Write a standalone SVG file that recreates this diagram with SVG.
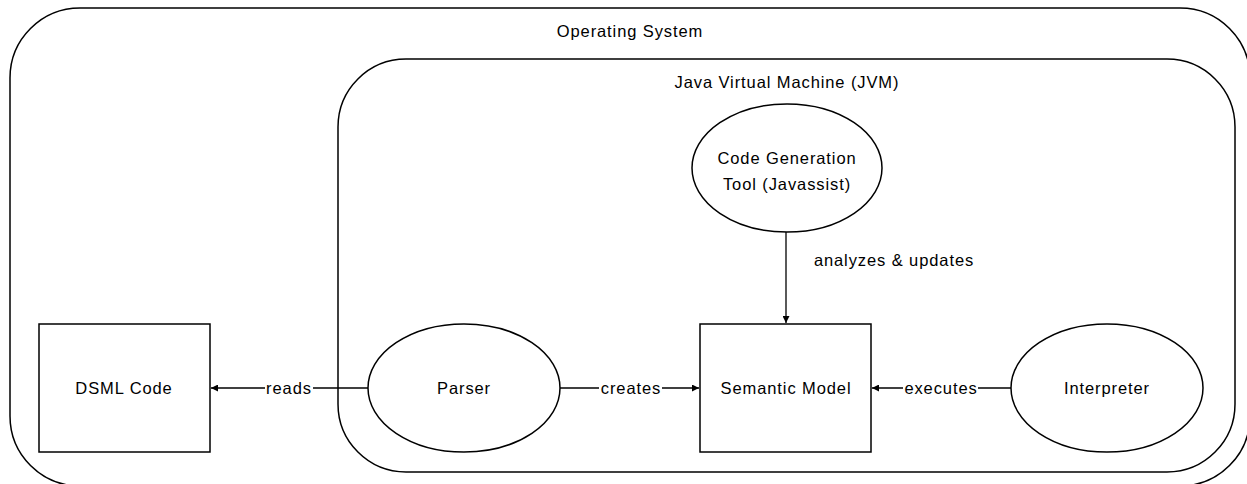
<svg xmlns="http://www.w3.org/2000/svg" width="1247" height="484" viewBox="0 0 1247 484">
<style>
.shape{fill:#fff;stroke:#000;stroke-width:1.5}
.cont{fill:none;stroke:#000;stroke-width:1.5}
.t{font-family:"Liberation Sans",Arial,sans-serif;font-size:16.5px;fill:#000;text-anchor:middle;dominant-baseline:central;letter-spacing:0.9px}
.edge{stroke:#000;stroke-width:1.3;fill:none;marker-end:url(#ah)}
.lbl{fill:#fff;stroke:none}
</style>
<defs>
<marker id="ah" viewBox="0 0 10 10" refX="10" refY="5" markerWidth="7" markerHeight="7" markerUnits="userSpaceOnUse" orient="auto">
<path d="M0,0 L10,5 L0,10 z" fill="#000"/>
</marker>
</defs>
<g id="os">
<rect class="cont" x="10" y="8" width="1240" height="478" rx="70" ry="70"/>
<text class="t" x="630" y="31">Operating System</text>
</g>
<g id="jvm">
<rect class="shape" x="338" y="59" width="897" height="413" rx="68" ry="68"/>
<text class="t" x="787" y="82">Java Virtual Machine (JVM)</text>
</g>
<g id="connectors">
<line class="edge" x1="368" y1="388" x2="211" y2="388"/>
<rect class="lbl" x="265" y="378" width="48" height="20"/>
<text class="t" x="289" y="388">reads</text>
<line class="edge" x1="560" y1="388" x2="699" y2="388"/>
<rect class="lbl" x="599" y="378" width="63" height="20"/>
<text class="t" x="631" y="388">creates</text>
<line class="edge" x1="1011" y1="388" x2="872" y2="388"/>
<rect class="lbl" x="903" y="378" width="75" height="20"/>
<text class="t" x="941" y="388">executes</text>
<line class="edge" x1="786" y1="232" x2="786" y2="323"/>
<text class="t" x="894" y="260">analyzes &amp; updates</text>
</g>
<g id="dsml">
<rect class="shape" x="39" y="324" width="171" height="128"/>
<text class="t" x="124" y="388">DSML Code</text>
</g>
<g id="parser">
<ellipse class="shape" cx="464" cy="388" rx="96" ry="64"/>
<text class="t" x="464" y="388">Parser</text>
</g>
<g id="semantic">
<rect class="shape" x="700" y="324" width="171" height="128"/>
<text class="t" x="786" y="388">Semantic Model</text>
</g>
<g id="interpreter">
<ellipse class="shape" cx="1107" cy="388" rx="96" ry="64"/>
<text class="t" x="1107" y="388">Interpreter</text>
</g>
<g id="codegen">
<ellipse class="shape" cx="787" cy="168" rx="95" ry="64"/>
<text class="t" x="787" y="158">Code Generation</text>
<text class="t" x="787" y="184">Tool (Javassist)</text>
</g>
</svg>
